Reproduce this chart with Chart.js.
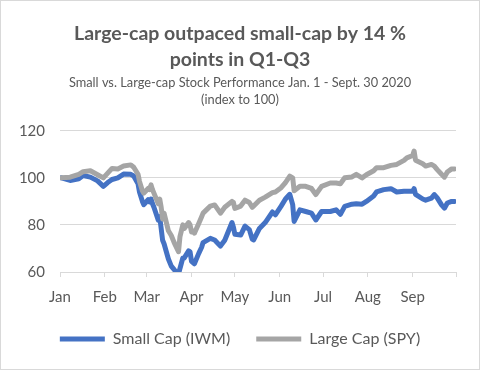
<!DOCTYPE html>
<html>
<head>
<meta charset="utf-8">
<script src="https://cdn.jsdelivr.net/npm/chart.js@4"></script>
<style>
  body { margin: 0; background: #fff; }
  #wrap { position: relative; width: 480px; height: 370px; }
  #frame { position: absolute; left: 0; top: 0; width: 480px; height: 370px; box-sizing: border-box; border: 1px solid #d9d9d9; pointer-events: none; }
</style>
</head>
<body>
<div id="wrap">
  <canvas id="myChart" width="480" height="370"></canvas>
  <div id="frame"></div>
</div>
<script>
// trading dates (2020) and index values
const dates = ['01-02','01-08','01-14','01-17','01-22','01-27','01-31','02-03','02-06','02-10',
  '02-14','02-19','02-21','02-24','02-25','02-27','02-28','03-02','03-03','03-04',
  '03-05','03-06','03-09','03-10','03-11','03-12','03-13','03-16','03-18','03-20',
  '03-23','03-24','03-26','03-27','03-30','03-31','04-01','04-02','04-03','04-06',
  '04-08','04-09','04-14','04-17','04-21','04-24','04-29','04-30','05-01','05-05',
  '05-08','05-11','05-13','05-14','05-18','05-22','05-27','05-29','06-02','06-05',
  '06-08','06-10','06-11','06-15','06-19','06-23','06-26','06-30','07-06','07-10',
  '07-13','07-16','07-21','07-24','07-28','07-31','08-05','08-07','08-12','08-17',
  '08-21','08-26','08-28','09-01','09-02','09-03','09-08','09-10','09-14','09-16',
  '09-18','09-21','09-23','09-25','09-28','09-30'];

const smallCap = [100,98.9,99.6,101,100.3,98.7,96.4,98,99.3,100,
  101.6,101.5,100.8,97.5,94,90,88.6,90.7,89.8,91,
  89,87.5,82,83.5,78.5,73.5,72,65.5,62.5,61,
  59,61.5,66,66,69,68.6,64.5,64,63.5,67.9,
  70.5,72.5,74.3,73.6,71,73.5,81,79,76,75.7,
  79.5,78,74,73.6,78.5,81,85.5,84.3,88,91,
  93,88.6,81.5,86.4,85.7,85,82.1,85.7,85.7,86.4,
  84.5,87.9,88.8,89,88.8,90,92.3,94,95,95.4,
  94,94.3,94.3,94.3,95.4,93,91,90.5,91.4,92.9,
  91.5,88.5,87.1,89.3,90,90];

const largeCap = [100,100.3,101.5,102.6,103,101.3,100,102,104,103.8,
  105,105.5,104.5,101.5,98.5,94.5,93.5,95.5,95,97,
  95,93.5,89,91,87.5,82.5,85,77.5,75.5,72.5,
  68.6,75,80,78.5,81,80,77,77.5,76.5,80.6,
  83.5,85,88,88.5,85,87.5,90,89.5,87,88,
  90.5,89.5,87.5,88,90.5,91.8,93.7,94,95.8,98,
  100.7,100,94.5,96.4,96.4,95.5,92.9,96.4,97.8,97.8,
  97.5,100,100.4,101.5,100,101.3,103,104.3,104.3,105.3,
  105.7,107.4,108.5,109.5,111.4,107.5,106,105,105.7,105,
  103.5,101.5,100.3,102.5,103.8,103.8];

const monthLabels = ['Jan', 'Feb', 'Mar', 'Apr', 'May', 'Jun', 'Jul', 'Aug', 'Sep', ''];
const yTicks = [60, 80, 100, 120];

// day number counted from Jan 1 2020
const dayOf = (m, d) => (Date.UTC(2020, m - 1, d) - Date.UTC(2020, 0, 1)) / 86400000;
const days = dates.map(s => dayOf(+s.slice(0, 2), +s.slice(3)));
const monthStarts = monthLabels.map((l, i) => dayOf(i + 1, 1));

const textColor = '#595959';
const gridColor = '#d9d9d9';
const fontFamily = 'Lato, "Liberation Sans", sans-serif';

const ctx = document.getElementById('myChart').getContext('2d');
const myChart = new Chart(ctx, {
    type: 'line',
    data: {
        datasets: [{
            label: 'Small Cap (IWM)',
            data: days.map((d, i) => ({x: d, y: smallCap[i]})),
            borderColor: '#4472c4',
            backgroundColor: '#4472c4',
            borderWidth: 5,
            borderCapStyle: 'round',
            borderJoinStyle: 'round',
            pointRadius: 0,
            order: 2
        }, {
            label: 'Large Cap (SPY)',
            data: days.map((d, i) => ({x: d, y: largeCap[i]})),
            borderColor: '#a5a5a5',
            backgroundColor: '#a5a5a5',
            borderWidth: 5,
            borderCapStyle: 'round',
            borderJoinStyle: 'round',
            pointRadius: 0,
            order: 1
        }]
    },
    options: {
        responsive: false,
        animation: false,
        devicePixelRatio: 1,
        layout: {
            padding: {left: 0, right: 0, top: 0, bottom: 13}
        },
        scales: {
            x: {
                type: 'linear',
                min: 0,
                max: monthStarts[monthStarts.length - 1],
                afterBuildTicks: (scale) => {
                    scale.ticks = monthStarts.map(v => ({value: v}));
                },
                afterFit: (scale) => {
                    scale.height -= 12;
                },
                grid: {
                    drawOnChartArea: false,
                    tickLength: 5,
                    color: gridColor
                },
                border: {
                    color: gridColor
                },
                ticks: {
                    autoSkip: false,
                    maxRotation: 0,
                    padding: 11,
                    color: textColor,
                    font: {family: fontFamily, size: 15},
                    callback: (v, i) => monthLabels[i]
                }
            },
            y: {
                min: yTicks[0],
                max: yTicks[yTicks.length - 1],
                afterBuildTicks: (scale) => {
                    scale.ticks = yTicks.map(v => ({value: v}));
                },
                afterFit: (scale) => {
                    scale.width = 60;
                },
                grid: {
                    drawTicks: false,
                    color: gridColor
                },
                border: {
                    display: false
                },
                ticks: {
                    padding: 15,
                    color: textColor,
                    font: {family: fontFamily, size: 15}
                }
            },
            // empty right-hand margin so the legend stays centred on the canvas
            yRight: {
                position: 'right',
                grid: {display: false},
                border: {display: false},
                ticks: {display: false},
                afterFit: (scale) => {
                    scale.width = 24;
                }
            }
        },
        plugins: {
            title: {
                display: true,
                text: ['Large-cap outpaced small-cap by 14 %', 'points in Q1-Q3'],
                color: textColor,
                font: {family: fontFamily, size: 19.5, weight: 'bold', lineHeight: 1.32},
                padding: {top: 21, bottom: 2}
            },
            subtitle: {
                display: true,
                text: ['Small vs. Large-cap Stock Performance Jan. 1 - Sept. 30 2020', '(index to 100)'],
                color: textColor,
                font: {family: fontFamily, size: 12.8, lineHeight: 1.3},
                padding: {top: 0, bottom: 23}
            },
            legend: {
                position: 'bottom',
                labels: {
                    usePointStyle: true,
                    pointStyle: 'line',
                    pointStyleWidth: 45,
                    padding: 26,
                    color: textColor,
                    font: {family: fontFamily, size: 16},
                    sort: (a, b) => a.datasetIndex - b.datasetIndex
                }
            },
            tooltip: {enabled: false}
        }
    }
});
</script>
</body>
</html>
